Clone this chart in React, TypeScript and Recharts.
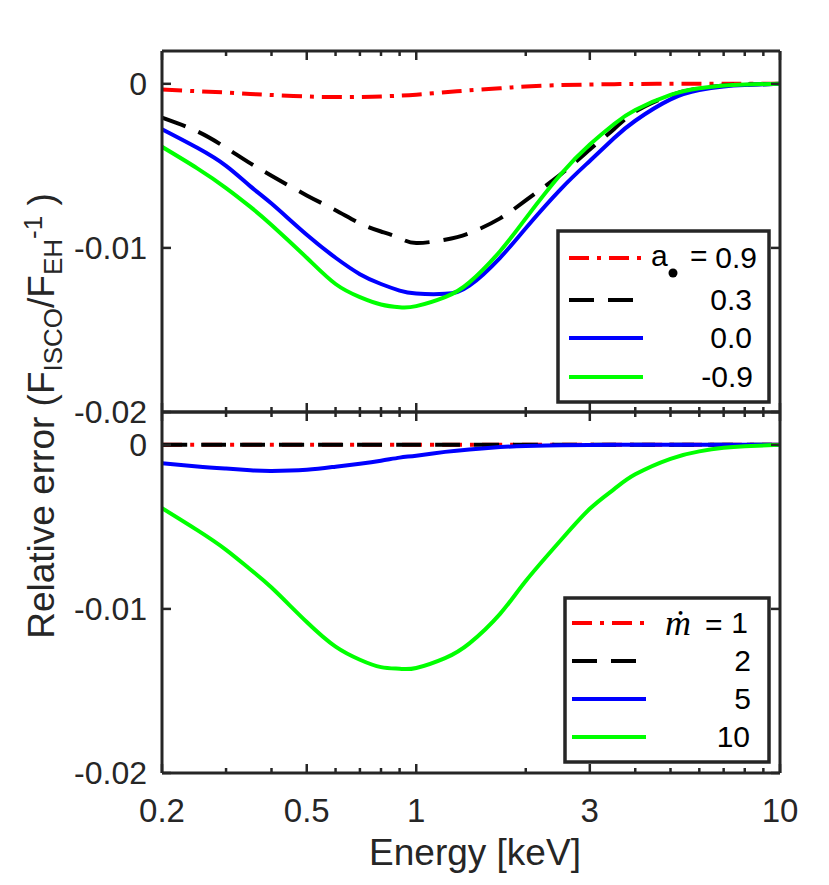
import React from "react";
import { LineChart, Line, XAxis, YAxis } from "recharts";

const W = 829;
const H = 885;
const PLOT_L = 162;
const PLOT_R = 780;
const AXIS = "#262626";
const FONT = "'Liberation Sans', Arial, Helvetica, sans-serif";

// photon energy grid [keV]
const energy = [0.2, 0.25, 0.3, 0.35, 0.4, 0.5, 0.6, 0.7, 0.8, 0.9, 1, 1.2, 1.4, 1.7, 2, 2.5, 3, 3.5, 4, 5, 6, 7, 8, 10];

// top panel: spin a*
const spin09 = [-0.00035, -0.00045, -0.00053, -0.00062, -0.00068, -0.00077, -0.00081, -0.0008, -0.00077, -0.00072, -0.00066, -0.00052, -0.0004, -0.00027, -0.00016, -0.00008, -0.00004, -0.00002, -0.00001, 0, 0, 0, 0, 0];
const spin03 = [-0.00206, -0.0029, -0.0039, -0.00485, -0.0056, -0.0068, -0.0077, -0.0085, -0.009, -0.0094, -0.0097, -0.0095, -0.0091, -0.0082, -0.0071, -0.0055, -0.004, -0.00275, -0.0017, -0.0007, -0.00028, -0.0001, -0.00004, 0];
const spin00 = [-0.00277, -0.0039, -0.005, -0.00625, -0.0073, -0.0092, -0.0106, -0.0116, -0.0122, -0.0126, -0.01278, -0.0128, -0.0123, -0.0106, -0.0088, -0.0064, -0.0047, -0.0033, -0.00225, -0.00095, -0.00038, -0.00016, -0.00007, 0];
const spinM09 = [-0.00384, -0.00515, -0.00635, -0.0075, -0.0086, -0.0106, -0.0122, -0.013, -0.01345, -0.01362, -0.01355, -0.013, -0.0121, -0.0102, -0.0082, -0.0055, -0.0037, -0.00245, -0.0016, -0.00068, -0.00027, -0.0001, -0.00004, 0];

// bottom panel: accretion rate mdot
const mdot1 = [0, 0, 0, 0, 0, 0, 0, 0, 0, 0, 0, 0, 0, 0, 0, 0, 0, 0, 0, 0, 0, 0, 0, 0];
const mdot2 = [0, 0, 0, 0, 0, 0, 0, 0, 0, 0, 0, 0, 0, 0, 0, 0, 0, 0, 0, 0, 0, 0, 0, 0];
const mdot5 = [-0.00112, -0.00132, -0.00145, -0.00155, -0.00159, -0.00152, -0.00133, -0.00115, -0.00097, -0.00078, -0.00066, -0.00043, -0.00028, -0.00014, -0.00007, -0.00003, -0.00001, 0, 0, 0, 0, 0, 0, 0];
const mdot10 = [-0.00386, -0.0052, -0.0064, -0.0076, -0.0087, -0.0108, -0.0123, -0.0131, -0.01355, -0.01365, -0.0136, -0.013, -0.0121, -0.0103, -0.0083, -0.0058, -0.0039, -0.0027, -0.0018, -0.00085, -0.0004, -0.00018, -0.00008, 0];

const xTicks = [0.2, 0.3, 0.4, 0.5, 0.6, 0.7, 0.8, 0.9, 1, 2, 3, 4, 5, 6, 7, 8, 9, 10];
const xMajor = [0.2, 0.5, 1, 3, 10];
const yTicks = [-0.02, -0.01, 0];
const yTickLabels = ["-0.02", "-0.01", "0"];

const spinLabels = ["0.9", "0.3", "0.0", "-0.9"];
const mdotLabels = ["1", "2", "5", "10"];

const styles = [
  { color: "#ff0000", dash: "20 8 4 8" },
  { color: "#000000", dash: "25 14" },
  { color: "#0000ff", dash: undefined },
  { color: "#00ff00", dash: undefined },
];

const topData = energy.map((e, i) => ({ e, s0: spin09[i], s1: spin03[i], s2: spin00[i], s3: spinM09[i] }));
const botData = energy.map((e, i) => ({ e, s0: mdot1[i], s1: mdot2[i], s2: mdot5[i], s3: mdot10[i] }));

function XTick(props: any) {
  const { x, y, payload, dir, showLabel } = props;
  const v = payload.value;
  const major = xMajor.includes(v);
  const len = major ? 9 : 5;
  return (
    <g>
      <line x1={x} x2={x} y1={y} y2={y + dir * len} stroke={AXIS} strokeWidth={2.5} />
      {showLabel && major && (
        <text x={x} y={y + 49} textAnchor="middle" fontFamily={FONT} fontSize={33} fill={AXIS}>
          {String(v)}
        </text>
      )}
    </g>
  );
}

function YTick(props: any) {
  const { x, y, payload, dir, showLabel } = props;
  const idx = yTicks.indexOf(payload.value);
  return (
    <g>
      <line x1={x} x2={x + dir * 9} y1={y} y2={y} stroke={AXIS} strokeWidth={2.5} />
      {showLabel && (
        <text x={x - 15} y={y + 11} textAnchor="end" fontFamily={FONT} fontSize={32} fill={AXIS}>
          {yTickLabels[idx]}
        </text>
      )}
    </g>
  );
}

function Panel({ data, top, bottom, showXLabels }: { data: any[]; top: number; bottom: number; showXLabels: boolean }) {
  const axisLine = { stroke: AXIS, strokeWidth: 3 };
  return (
    <div style={{ position: "absolute", left: 0, top: 0 }}>
      <LineChart width={W} height={H} data={data}
        margin={{ top: top - 1, bottom: H - bottom - 1, left: PLOT_L - 1, right: W - PLOT_R - 1 }}>
        <XAxis xAxisId="b" dataKey="e" type="number" scale="log" domain={[0.2, 10]} allowDataOverflow ticks={xTicks} interval={0}
          height={1} tickSize={0} tickMargin={0} tickLine={false} axisLine={axisLine}
          tick={(p: any) => <XTick {...p} dir={-1} showLabel={showXLabels} />} />
        <XAxis xAxisId="t" orientation="top" dataKey="e" type="number" scale="log" domain={[0.2, 10]} allowDataOverflow ticks={xTicks} interval={0}
          height={1} tickSize={0} tickMargin={0} tickLine={false} axisLine={axisLine}
          tick={(p: any) => <XTick {...p} dir={1} showLabel={false} />} />
        <YAxis yAxisId="l" type="number" domain={[-0.02, 0.002]} allowDataOverflow ticks={yTicks} interval={0}
          width={1} tickSize={0} tickMargin={0} tickLine={false} axisLine={axisLine}
          tick={(p: any) => <YTick {...p} dir={1} showLabel />} />
        <YAxis yAxisId="r" orientation="right" type="number" domain={[-0.02, 0.002]} allowDataOverflow ticks={yTicks} interval={0}
          width={1} tickSize={0} tickMargin={0} tickLine={false} axisLine={axisLine}
          tick={(p: any) => <YTick {...p} dir={-1} showLabel={false} />} />
        {styles.map((s, i) => (
          <Line key={i} xAxisId="b" yAxisId="l" type="natural" dataKey={"s" + i} stroke={s.color} strokeWidth={4}
            strokeDasharray={s.dash} dot={false} activeDot={false} isAnimationActive={false} />
        ))}
      </LineChart>
    </div>
  );
}

function LegendBox({ x, y, w, h, lineX1, lineX2, rows, labels, textRight, head }: any) {
  return (
    <g>
      <rect x={x} y={y} width={w} height={h} fill="#ffffff" stroke={AXIS} strokeWidth={3.5} />
      {styles.map((s, i) => (
        <g key={i}>
          <line x1={lineX1} x2={lineX2} y1={rows[i]} y2={rows[i]} stroke={s.color} strokeWidth={4} strokeDasharray={s.dash} />
          <text x={textRight[i]} y={rows[i] + 10} textAnchor="end" fontFamily={FONT} fontSize={30} fill="#000">
            {labels[i]}
          </text>
        </g>
      ))}
      {head}
    </g>
  );
}

export default function App() {
  return (
    <div style={{ position: "absolute", left: 0, top: 0, width: W, height: H, background: "#fff" }}>
      <Panel data={topData} top={51} bottom={412} showXLabels={false} />
      <Panel data={botData} top={412} bottom={773} showXLabels />
      <svg width={W} height={H} style={{ position: "absolute", left: 0, top: 0 }}>
        <LegendBox x={558} y={231} w={211} h={171} lineX1={569} lineX2={643}
          rows={[258, 300, 338, 377]} labels={spinLabels} textRight={[757, 752, 752, 753]}
          head={
            <g>
              <text x={651} y={266} fontFamily={FONT} fontSize={30} fill="#000">a</text>
              <circle cx={673} cy={273} r={4.5} fill="#000" />
              <text x={690} y={266} fontFamily={FONT} fontSize={30} fill="#000">=</text>
            </g>
          } />
        <LegendBox x={565} y={598} w={204} h={164} lineX1={572} lineX2={646}
          rows={[623, 661, 699, 737]} labels={mdotLabels} textRight={[748, 751, 751, 750]}
          head={
            <g>
              <text x={665} y={635} fontFamily="'Liberation Serif', 'DejaVu Serif', serif" fontStyle="italic" fontSize={36} fill="#000">ṁ</text>
              <text x={705} y={635} fontFamily={FONT} fontSize={30} fill="#000">=</text>
            </g>
          } />
        <text x={475} y={865} textAnchor="middle" fontFamily={FONT} fontSize={37} fill={AXIS}>Energy [keV]</text>
        <text transform="translate(54,416) rotate(-90)" textAnchor="middle" fontFamily={FONT} fontSize={37} fill={AXIS}>
          <tspan>Relative error (F</tspan>
          <tspan fontSize={26} dy={8}>ISCO</tspan>
          <tspan dy={-8}>/F</tspan>
          <tspan fontSize={26} dy={8}>EH</tspan>
          <tspan fontSize={26} dy={-20}>-1</tspan>
          <tspan dy={12}> )</tspan>
        </text>
      </svg>
    </div>
  );
}
